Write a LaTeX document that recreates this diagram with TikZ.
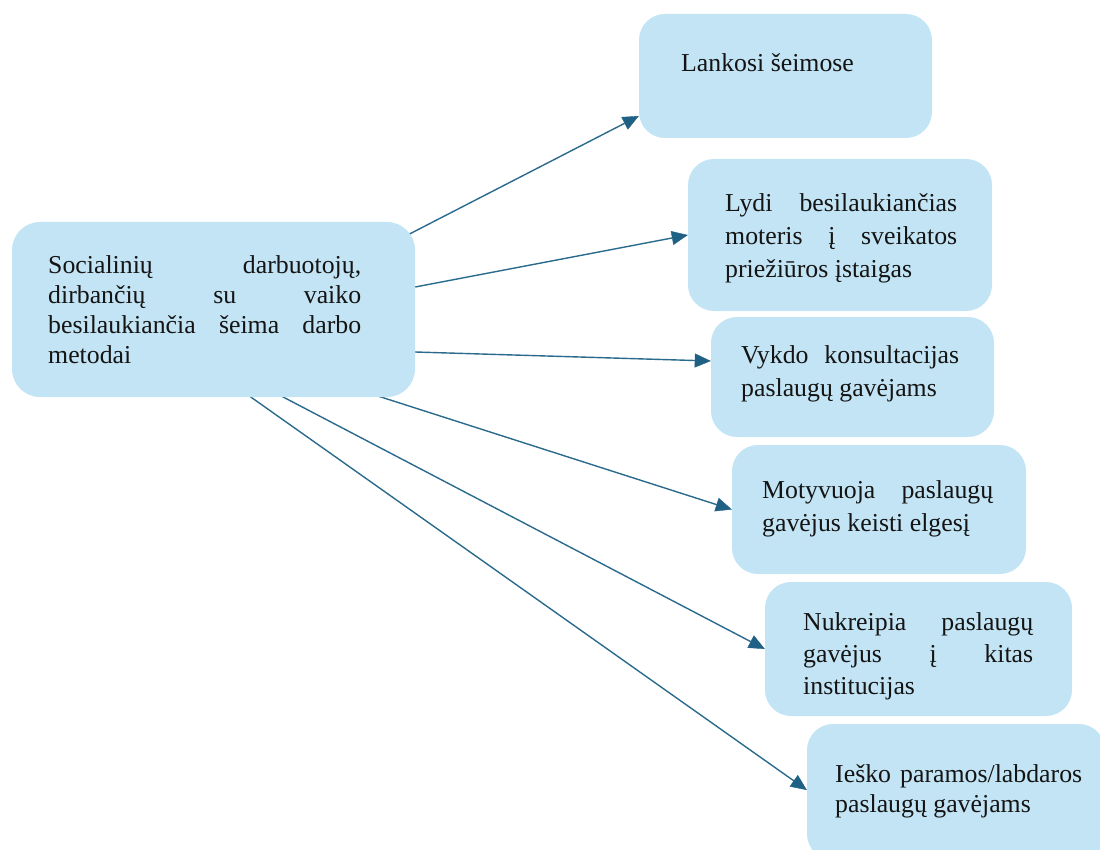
\documentclass[tikz,border=0pt]{standalone}
\usepackage{fontspec}
\setmainfont{Liberation Serif}
\usetikzlibrary{arrows.meta,calc,backgrounds}
\tolerance=10000
\hyphenpenalty=10000
\exhyphenpenalty=10000
\definecolor{boxfill}{HTML}{C3E4F4}
\definecolor{linkcol}{HTML}{2A6A8C}
\definecolor{tipcol}{HTML}{1F6185}
\definecolor{ink}{HTML}{141414}
\begin{document}
\begin{tikzpicture}[x=1pt,y=-1pt,
  box/.style={fill=boxfill,draw=none,rounded corners=26pt,inner sep=0pt},
  label/.style={anchor=base west,inner sep=0pt,text=ink,align=justify,
    font=\fontsize{25.8}{33}\selectfont},
  link/.style={draw=linkcol,line width=1.4pt,
    -{Triangle[length=16pt,width=14pt,color=tipcol,fill=tipcol,line width=0.4pt]}}]
\useasboundingbox (0,0) rectangle (1100,850);
\clip (0,0) rectangle (1100,850);

% boxes
\node[box,rounded corners=28pt,minimum width=403pt,minimum height=175pt] (c) at (213.5,309.5) {};
\node[box,minimum width=293pt,minimum height=124pt] (b1) at (785.5,76) {};
\node[box,minimum width=304pt,minimum height=152pt] (b2) at (840,235) {};
\node[box,minimum width=283pt,minimum height=120pt] (b3) at (852.5,377) {};
\node[box,minimum width=294pt,minimum height=129pt] (b4) at (879,509.5) {};
\node[box,minimum width=307pt,minimum height=134pt] (b5) at (918.5,649) {};
\node[box,minimum width=298pt,minimum height=136pt] (b6) at (956,792) {};

% texts
\node[label,text width=313pt,font=\fontsize{25.8}{30}\selectfont] (t0) at (48,273)
  {Socialinių darbuotojų, dirbančių su vaiko besilaukiančia šeima darbo metodai};
\node[label] (t1) at (681,72) {Lankosi šeimose};
\node[label,text width=232pt] (t2) at (725,212)
  {Lydi besilaukiančias moteris į sveikatos priežiūros įstaigas};
\node[label,text width=218pt] (t3) at (741,363)
  {Vykdo konsultacijas paslaugų gavėjams};
\node[label,text width=231pt] (t4) at (762,498)
  {Motyvuoja paslaugų gavėjus keisti elgesį};
\node[label,text width=230pt,font=\fontsize{25.8}{32}\selectfont] (t5) at (803,630)
  {Nukreipia paslaugų gavėjus į kitas institucijas};
\node[label,text width=247pt,font=\fontsize{25.8}{30}\selectfont] (t6) at (835,782)
  {Ieško paramos/labdaros paslaugų gavėjams};

% connectors, kept under the boxes
\begin{scope}[on background layer]
\draw[link] ($(c.north east)+(-15,17)$) -- ($(b1.west)+(0,40)$);
\draw[link] ($(c.east)+(0,-22.5)$) -- (b2.west);
\draw[link] ($(c.east)+(0,42.5)$) -- ($(b3.west)+(0,-16)$);
\draw[link] ($(c.south east)+(-43,-3)$) -- (b4.west);
\draw[link] ($(c.south west)+(266,-3)$) -- (b5.west);
\draw[link] ($(c.south west)+(235,-3)$) -- ($(b6.west)+(0,-2)$);
\end{scope}
\end{tikzpicture}
\end{document}
